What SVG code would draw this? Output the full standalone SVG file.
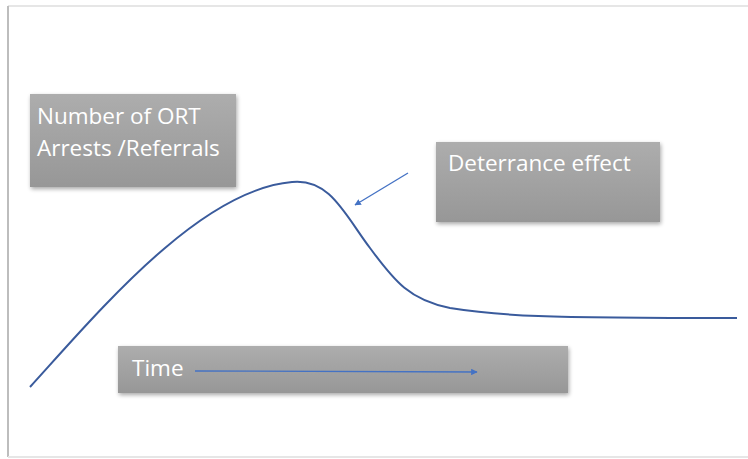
<svg xmlns="http://www.w3.org/2000/svg" width="748" height="459" viewBox="0 0 748 459">
<defs>
<linearGradient id="g" x1="0" y1="0" x2="0" y2="1">
<stop offset="0" stop-color="#adadad"/>
<stop offset="1" stop-color="#979797"/>
</linearGradient>
<filter id="sh" x="-10%" y="-20%" width="120%" height="140%">
<feGaussianBlur in="SourceAlpha" stdDeviation="2"/>
<feOffset dx="1" dy="2" result="b"/>
<feComponentTransfer><feFuncA type="linear" slope="0.35"/></feComponentTransfer>
<feMerge><feMergeNode/><feMergeNode in="SourceGraphic"/></feMerge>
</filter>
<marker id="ah" viewBox="0 0 10 10" refX="9" refY="5" markerWidth="5" markerHeight="5" orient="auto">
<path d="M0,0 L10,5 L0,10 z" fill="#4472c4"/>
</marker>
</defs>
<style>
.box{fill:url(#g);filter:url(#sh)}
.t{font-family:"Open Sans","Liberation Sans",sans-serif;font-size:22.5px;fill:#ffffff}
.arr{stroke:#4472c4;stroke-width:1.3;fill:none;marker-end:url(#ah)}
</style>
<rect x="0" y="0" width="748" height="459" fill="#ffffff"/>
<line x1="8" y1="6" x2="748" y2="6" stroke="#e6e6e6" stroke-width="2"/>
<line x1="8" y1="6" x2="8" y2="457" stroke="#bdbdbd" stroke-width="2"/>
<line x1="8" y1="457" x2="748" y2="457" stroke="#e6e6e6" stroke-width="2"/>
<g id="curve">
<path d="M30,387 C100,310 200,190 292,182 C330,178 345,215 370,248 C395,282 410,300 450,308 C500,316 540,318 737,318" fill="none" stroke="#3a5b9c" stroke-width="2"/>
</g>
<g id="ylabel">
<rect class="box" x="30" y="94" width="206" height="93"/>
<text class="t" x="37" y="124">Number of ORT</text>
<text class="t" x="37" y="156">Arrests /Referrals</text>
</g>
<g id="deterrance">
<rect class="box" x="436" y="142" width="224" height="80"/>
<text class="t" x="448" y="171">Deterrance effect</text>
</g>
<g id="time">
<rect class="box" x="118" y="346" width="450" height="47"/>
<text class="t" x="132" y="376">Time</text>
</g>
<g id="connectors">
<line class="arr" x1="408" y1="173" x2="355" y2="205"/>
<line class="arr" x1="195" y1="371" x2="477" y2="372"/>
</g>
</svg>
